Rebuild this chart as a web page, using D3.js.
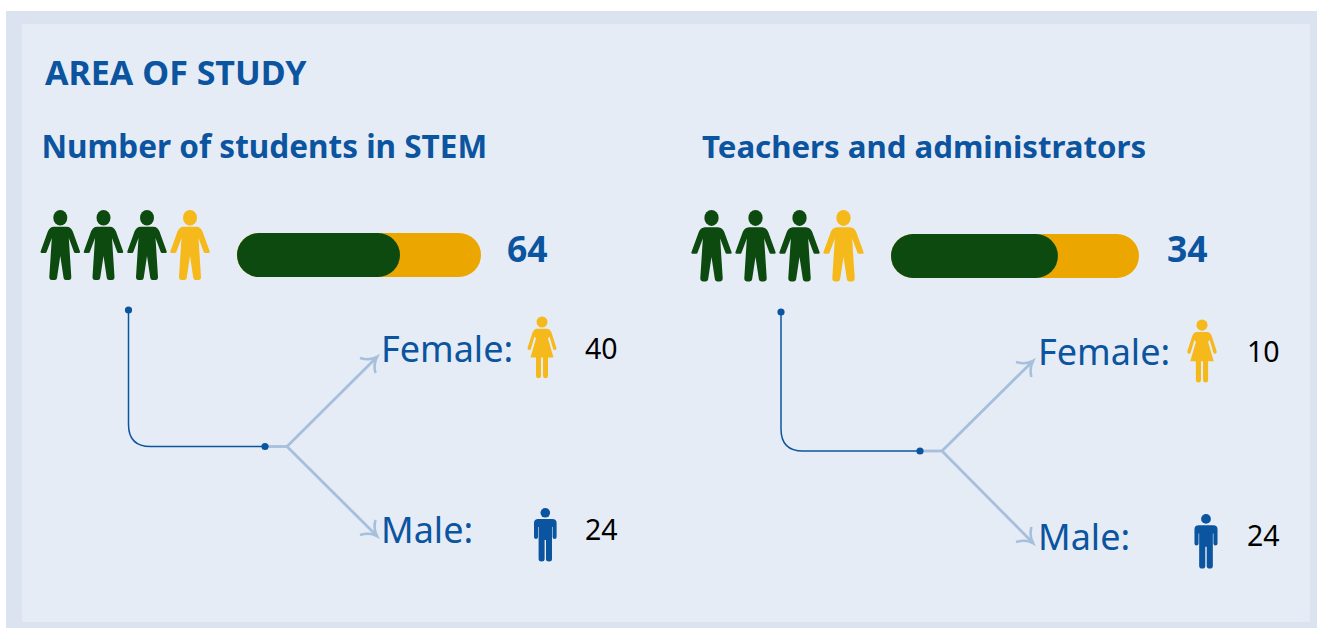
<!DOCTYPE html>
<html>
<head>
<meta charset="utf-8">
<script src="https://cdn.jsdelivr.net/npm/d3@7"></script>
<style>
  html, body { margin: 0; padding: 0; background: #fff; }
  svg { display: block; }
  text { font-family: "Noto Sans", "Open Sans", sans-serif; }
</style>
</head>
<body>
<script>
'use strict';

// chart values
const chartTitle = "AREA OF STUDY";
const panelTitles = ["Number of students in STEM", "Teachers and administrators"];
const totals = [64, 34];
const greenShare = [0.668, 0.673];
const genderLabels = ["Female:", "Male:"];
const femaleCounts = [40, 10];
const maleCounts = [24, 24];
const peopleColors = ["green", "green", "green", "yellow"];

const colors = {
  outer: "#dae3ef", inner: "#e6ecf5", blue: "#0b549f", green: "#0d4a10",
  barYellow: "#eba700", yellow: "#f6b91b", light: "#a6bfdd"
};

// layout of each panel, in page pixels
const layouts = [
  { titleX: 41.5, titleSize: 31.5, iconX: [60.3, 103.5, 147, 190], iconY: 210, iconK: 1,
    barX: [237, 481], barY: 233, barH: 44, totalX: 507, totalY: 262,
    start: [128.5, 310], elbowY: 446.5, dot: 265, fork: 287, tipX: 377, tipTop: 357, tipBot: 536,
    labelX: 381, femaleY: 362, maleY: 543, femaleIcon: [542, 316.5, 1], maleIcon: [545.3, 508, 1], numX: 585, femaleNumY: 359, maleNumY: 540 },
  { titleX: 702, titleSize: 31.2, iconX: [711.5, 755.5, 799.5, 843.5], iconY: 210, iconK: 1.02,
    barX: [891, 1139], barY: 234, barH: 44, totalX: 1167, totalY: 262,
    start: [781, 312], elbowY: 451, dot: 920, fork: 942, tipX: 1033, tipTop: 361, tipBot: 543,
    labelX: 1038, femaleY: 365, maleY: 550, femaleIcon: [1202, 319.5, 1.02], maleIcon: [1206, 514, 1.02], numX: 1247, femaleNumY: 362, maleNumY: 546 }
];

const svg = d3.select("body").append("svg")
  .attr("width", 1317)
  .attr("height", 628);

svg.append("rect").attr("x", 6).attr("y", 11).attr("width", 1311).attr("height", 617).attr("fill", colors.outer);
svg.append("rect").attr("x", 22).attr("y", 24).attr("width", 1288).attr("height", 598).attr("fill", colors.inner);

svg.append("text")
  .attr("x", 45).attr("y", 85)
  .attr("font-size", 34).attr("font-weight", 700).attr("fill", colors.blue)
  .text(chartTitle);

// person shapes, origin at top of head on the centre line
const personBody = "M-6.5,16.8 L6.5,16.8 Q10.5,17 12.5,21.5 L19.7,41.5 Q20,43 18.5,43 L15,43 Q14,43 13.5,41.5 L8.5,28 L11,67 Q11,70 8.5,70 L5.5,70 Q3.6,70 3.3,68 L0,46 L-3.3,68 Q-3.6,70 -5.5,70 L-8.5,70 Q-11,70 -11,67 L-8.5,28 L-13.5,41.5 Q-14,43 -15,43 L-18.5,43 Q-20,43 -19.7,41.5 L-12.5,21.5 Q-10.5,17 -6.5,16.8 Z";
const femaleBody = "M-5,12.3 L5,12.3 Q8,12.5 9.5,16 L14.3,31 Q14.8,33.5 12.8,33.5 Q11.4,33.5 11,32 L7.5,20 L6,22 L11.5,41 L6,41 L6,59 Q6,61.7 3.5,61.7 Q1,61.7 1,59 L1,41 L-1,41 L-1,59 Q-1,61.7 -3.5,61.7 Q-6,61.7 -6,59 L-6,41 L-11.5,41 L-6,22 L-7.5,20 L-11,32 Q-11.4,33.5 -12.8,33.5 Q-14.8,33.5 -14.3,31 L-9.5,16 Q-8,12.5 -5,12.3 Z";
const maleBody = "M-7,11 L7,11 Q11.3,11 11.3,15 L11.3,29 Q11.3,31 9.3,31 Q7.3,31 7.3,29 L7.3,19 L6.7,19 L6.7,51 Q6.7,53.5 3.7,53.5 Q0.7,53.5 0.7,51 L0.7,32 L-0.7,32 L-0.7,51 Q-0.7,53.5 -3.7,53.5 Q-6.7,53.5 -6.7,51 L-6.7,19 L-7.3,19 L-7.3,29 Q-7.3,31 -9.3,31 Q-11.3,31 -11.3,29 L-11.3,15 Q-11.3,11 -7,11 Z";

function drawPerson(g, cx, top, k, color, body, headRx, headRy) {
  let p = g.append("g")
    .attr("transform", "translate(" + cx + "," + top + ") scale(" + k + ")")
    .attr("fill", color);
  p.append("ellipse").attr("cx", 0).attr("cy", headRy).attr("rx", headRx).attr("ry", headRy);
  p.append("path").attr("d", body);
}

function drawArrow(g, fx, fy, tx, ty) {
  let dir = ty < fy ? 1 : -1; // barbs flip for the lower branch
  g.append("path")
    .attr("d", "M" + fx + "," + fy + " L" + tx + "," + ty)
    .attr("fill", "none").attr("stroke", colors.light).attr("stroke-width", 2.8);
  g.append("path")
    .attr("d", "M" + (tx - 17) + "," + (ty + dir * 1) + " Q" + (tx - 7) + "," + (ty + dir * 4) + " " + tx + "," + ty
      + " Q" + (tx - 4) + "," + (ty + dir * 8) + " " + (tx - 1.5) + "," + (ty + dir * 16))
    .attr("fill", "none").attr("stroke", colors.light).attr("stroke-width", 2.6);
}

function drawPanel(i) {
  let l = layouts[i];
  let g = svg.append("g");

  g.append("text")
    .attr("x", l.titleX).attr("y", 158)
    .attr("font-size", l.titleSize).attr("font-weight", 700).attr("fill", colors.blue)
    .text(panelTitles[i]);

  peopleColors.forEach(function(c, j) {
    drawPerson(g, l.iconX[j], l.iconY, l.iconK, c === "green" ? colors.green : colors.yellow, personBody, 7, 7.8);
  });

  // stacked pill bar
  let barScale = d3.scaleLinear().domain([0, 1]).range(l.barX);
  g.append("rect")
    .attr("x", barScale(0)).attr("y", l.barY)
    .attr("width", barScale(1) - barScale(0)).attr("height", l.barH)
    .attr("rx", l.barH / 2).attr("fill", colors.barYellow);
  g.append("rect")
    .attr("x", barScale(0)).attr("y", l.barY)
    .attr("width", barScale(greenShare[i]) - barScale(0)).attr("height", l.barH)
    .attr("rx", l.barH / 2).attr("fill", colors.green);

  g.append("text")
    .attr("x", l.totalX).attr("y", l.totalY)
    .attr("font-size", 35.5).attr("font-weight", 700).attr("fill", colors.blue)
    .text(totals[i]);

  // connector from the people down to the fork
  let r = 22;
  g.append("path")
    .attr("d", "M" + l.start[0] + "," + l.start[1] + " L" + l.start[0] + "," + (l.elbowY - r)
      + " Q" + l.start[0] + "," + l.elbowY + " " + (l.start[0] + r) + "," + l.elbowY
      + " L" + l.dot + "," + l.elbowY)
    .attr("fill", "none").attr("stroke", colors.blue).attr("stroke-width", 1.5);
  g.append("path")
    .attr("d", "M" + l.dot + "," + l.elbowY + " L" + l.fork + "," + l.elbowY)
    .attr("stroke", colors.light).attr("stroke-width", 2.8);
  drawArrow(g, l.fork, l.elbowY, l.tipX, l.tipTop);
  drawArrow(g, l.fork, l.elbowY, l.tipX, l.tipBot);
  g.append("circle").attr("cx", l.start[0]).attr("cy", l.start[1]).attr("r", 3.6).attr("fill", colors.blue);
  g.append("circle").attr("cx", l.dot).attr("cy", l.elbowY).attr("r", 3.6).attr("fill", colors.blue);

  // gender rows
  g.append("text").attr("x", l.labelX).attr("y", l.femaleY)
    .attr("font-size", 36).attr("fill", colors.blue).text(genderLabels[0]);
  g.append("text").attr("x", l.labelX).attr("y", l.maleY)
    .attr("font-size", 36).attr("fill", colors.blue).text(genderLabels[1]);

  drawPerson(g, l.femaleIcon[0], l.femaleIcon[1], l.femaleIcon[2], colors.yellow, femaleBody, 5.5, 5.5);
  drawPerson(g, l.maleIcon[0], l.maleIcon[1], l.maleIcon[2], colors.blue, maleBody, 4.8, 4.8);

  g.append("text").attr("x", l.numX).attr("y", l.femaleNumY)
    .attr("font-size", 28.5).attr("fill", "#000").text(femaleCounts[i]);
  g.append("text").attr("x", l.numX).attr("y", l.maleNumY)
    .attr("font-size", 28.5).attr("fill", "#000").text(maleCounts[i]);
}

panelTitles.forEach(function(d, i) { drawPanel(i); });
</script>
</body>
</html>
